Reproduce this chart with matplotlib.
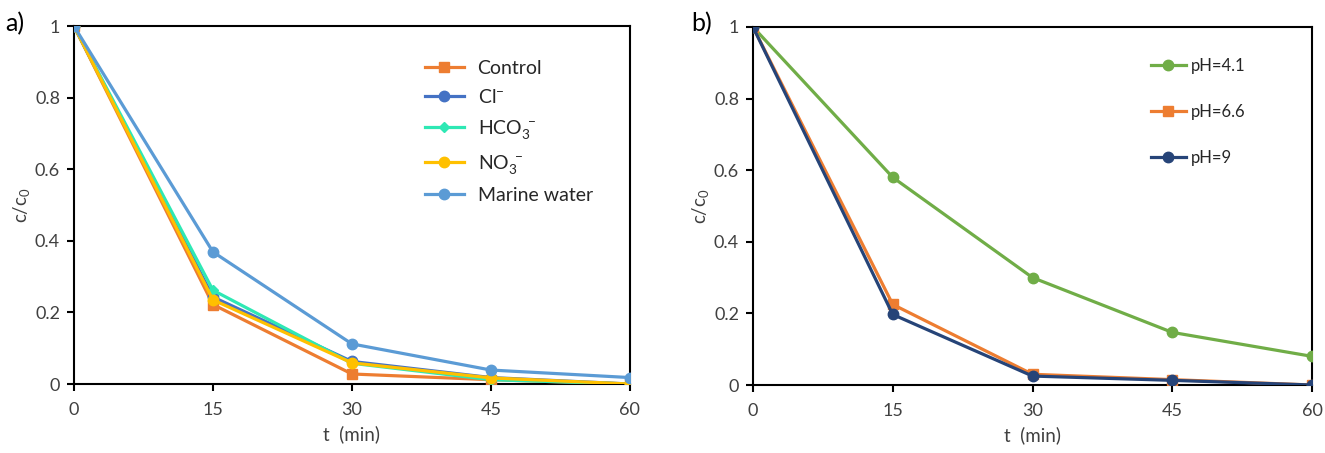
import matplotlib
matplotlib.use("Agg")
import matplotlib.pyplot as plt

plt.rcParams['font.family'] = ['Lato', 'DejaVu Sans']
plt.rcParams['mathtext.fontset'] = 'custom'
plt.rcParams['mathtext.rm'] = 'Lato'
plt.rcParams['mathtext.it'] = 'Lato:italic'

# time points (min)
t = [0, 15, 30, 45, 60]

# panel a) effect of anions / matrix
control = [1.0, 0.222, 0.028, 0.012, 0.0]
chloride = [1.0, 0.243, 0.063, 0.018, 0.0]
bicarbonate = [1.0, 0.262, 0.058, 0.012, 0.0]
nitrate = [1.0, 0.235, 0.059, 0.017, 0.0]
marine = [1.0, 0.369, 0.112, 0.039, 0.018]

# panel b) effect of pH
ph41 = [1.0, 0.58, 0.30, 0.147, 0.08]
ph66 = [1.0, 0.225, 0.03, 0.015, 0.0]
ph9 = [1.0, 0.197, 0.025, 0.013, 0.0]

xticks = [0, 15, 30, 45, 60]
yticks = [0, 0.2, 0.4, 0.6, 0.8, 1]
yticklabels = ['0', '0.2', '0.4', '0.6', '0.8', '1']

fig = plt.figure(figsize=(13.25, 4.53), dpi=100)
ax1 = fig.add_axes([0.0558, 0.1523, 0.4196, 0.7903])
ax2 = fig.add_axes([0.5683, 0.1501, 0.4219, 0.7903])

lw = 2.3
ms = 7.5

ax1.plot(t, control, color='#ED7D31', marker='s', lw=lw, ms=ms, label='Control', zorder=3)
ax1.plot(t, chloride, color='#4472C4', marker='o', lw=lw, ms=ms, label=r'Cl$^{-}$', zorder=3)
ax1.plot(t, bicarbonate, color='#2EE8B4', marker='D', lw=lw, ms=5.5, label=r'HCO$_3^{\ -}$', zorder=3)
ax1.plot(t, nitrate, color='#FFC000', marker='o', lw=lw, ms=ms, label=r'NO$_3^{\ -}$', zorder=3)
ax1.plot(t, marine, color='#5B9BD5', marker='o', lw=lw, ms=ms, label='Marine water', zorder=3)

ax2.plot(t, ph41, color='#70AD47', marker='o', lw=lw, ms=ms, label='pH=4.1', zorder=3)
ax2.plot(t, ph66, color='#ED7D31', marker='s', lw=lw, ms=ms, label='pH=6.6', zorder=3)
ax2.plot(t, ph9, color='#264478', marker='o', lw=lw, ms=ms, label='pH=9', zorder=3)

for ax in (ax1, ax2):
    ax.set_xlim(0, 60)
    ax.set_ylim(0, 1)
    ax.set_xticks(xticks)
    ax.set_yticks(yticks)
    ax.set_yticklabels(yticklabels)
    ax.tick_params(direction='out', length=5, width=1.5, labelsize=13,
                   labelcolor='#404040', pad=5)
    ax.tick_params(axis='x', pad=8)
    for s in ax.spines.values():
        s.set_linewidth(1.5)
        s.set_color('black')
    ax.set_xlabel('t  (min)', fontsize=13.5, color='#404040', labelpad=5)
    ax.set_ylabel('c/c$_0$', fontsize=13.5, color='#404040', labelpad=2)
    for lbl in ax.get_xticklabels() + ax.get_yticklabels():
        lbl.set_clip_on(False)

ax1.legend(loc='upper left', bbox_to_anchor=(0.6, 0.955), frameon=False,
           fontsize=14, handlelength=2.0, handletextpad=0.7, labelspacing=0.6,
           labelcolor='#262626')
ax2.legend(loc='upper left', bbox_to_anchor=(0.685, 0.955), frameon=False,
           fontsize=12, handlelength=2.1, handletextpad=0.3, labelspacing=1.8,
           labelcolor='#262626')

fig.text(0.004, 0.93, 'a)', fontsize=18, color='black')
fig.text(0.522, 0.93, 'b)', fontsize=18, color='black')

fig.savefig('out.png', dpi=100)
